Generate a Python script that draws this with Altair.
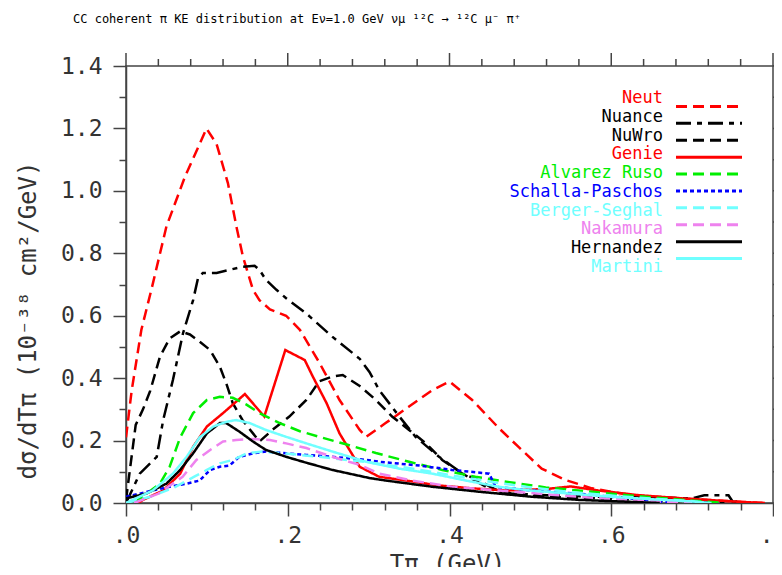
import altair as alt
import pandas as pd

series_names = ["Neut", "Nuance", "NuWro", "Genie", "Alvarez Ruso", "Schalla-Paschos",
                "Berger-Seghal", "Nakamura", "Hernandez", "Martini"]
series_colors = ["#ff0000", "#000000", "#000000", "#ff0000", "#00ee00", "#0000ff",
                 "#70ffff", "#ee82ee", "#000000", "#70ffff"]
series_dashes = [[11, 6], [15, 6, 5, 6], [11, 6], [1, 0], [11, 6], [4, 3],
                 [11, 6], [11, 6], [1, 0], [1, 0]]
series_widths = [2.5, 2.5, 2.5, 2.5, 2.5, 2.5, 2.5, 2.5, 2.5, 3]

neut_x = [0, 0.007, 0.019, 0.032, 0.05, 0.073, 0.091, 0.0995, 0.112, 0.126, 0.1365, 0.1445,
          0.157, 0.165, 0.178, 0.198, 0.215, 0.239, 0.264, 0.289, 0.297, 0.321, 0.35, 0.379,
          0.4, 0.428, 0.461, 0.486, 0.514, 0.543, 0.576, 0.625, 0.687, 0.757, 0.79]
neut_y = [0.21, 0.36, 0.555, 0.69, 0.886, 1.046, 1.15, 1.2, 1.15, 1.025, 0.886, 0.79,
          0.683, 0.65, 0.62, 0.60, 0.555, 0.45, 0.33, 0.234, 0.212, 0.256, 0.309, 0.362,
          0.389, 0.33, 0.24, 0.178, 0.11, 0.074, 0.047, 0.025, 0.015, 0.004, 0.0]

nuance_x = [0.0, 0.017, 0.038, 0.046, 0.058, 0.0705, 0.083, 0.089, 0.095, 0.112,
            0.128, 0.144, 0.159, 0.165, 0.173, 0.186, 0.198, 0.223, 0.255, 0.289,
            0.301, 0.313, 0.338, 0.358, 0.387, 0.416, 0.445, 0.477, 0.52, 0.58,
            0.64, 0.70, 0.715, 0.745, 0.75, 0.77]
nuance_y = [0.0, 0.094, 0.148, 0.266, 0.394, 0.544, 0.65, 0.72, 0.737, 0.737,
            0.747, 0.757, 0.76, 0.747, 0.715, 0.683, 0.656, 0.607, 0.533, 0.462,
            0.42, 0.362, 0.277, 0.212, 0.148, 0.094, 0.052, 0.03, 0.025, 0.02,
            0.018, 0.015, 0.025, 0.025, 0.005, 0.0]

nuwro_x = [0.0, 0.012, 0.021, 0.03, 0.042, 0.054, 0.067, 0.079, 0.091, 0.104, 0.116, 0.124,
           0.132, 0.144, 0.157, 0.165, 0.181, 0.202, 0.223, 0.239, 0.255, 0.268, 0.289,
           0.309, 0.329, 0.35, 0.371, 0.391, 0.416, 0.437, 0.465, 0.52, 0.58, 0.64, 0.7, 0.74]
nuwro_y = [0.01, 0.25, 0.3, 0.36, 0.469, 0.527, 0.55, 0.54, 0.517, 0.49, 0.437, 0.383,
           0.32, 0.266, 0.223, 0.197, 0.234, 0.277, 0.33, 0.39, 0.405, 0.41, 0.375,
           0.33, 0.277, 0.234, 0.191, 0.138, 0.094, 0.072, 0.03, 0.02, 0.015, 0.01, 0.005, 0.0]

genie_x = [0.015, 0.021, 0.046, 0.067, 0.083, 0.1, 0.12, 0.147, 0.171, 0.197, 0.221, 0.231,
           0.248, 0.264, 0.289, 0.313, 0.346, 0.387, 0.428, 0.47, 0.52, 0.55, 0.584, 0.634,
           0.687, 0.757, 0.79]
genie_y = [0.0, 0.01, 0.04, 0.094, 0.18, 0.245, 0.288, 0.349, 0.277, 0.49, 0.458, 0.405,
           0.32, 0.223, 0.116, 0.084, 0.072, 0.056, 0.047, 0.04, 0.045, 0.053, 0.04, 0.025,
           0.015, 0.004, 0.0]

alvarez_x = [0.01, 0.042, 0.054, 0.067, 0.083, 0.1, 0.116, 0.132, 0.149, 0.165, 0.19, 0.215,
             0.239, 0.272, 0.309, 0.35, 0.391, 0.432, 0.47, 0.519, 0.56, 0.62, 0.68, 0.74]
alvarez_y = [0.0, 0.062, 0.116, 0.21, 0.288, 0.33, 0.34, 0.337, 0.315, 0.288, 0.256, 0.23,
             0.212, 0.188, 0.16, 0.132, 0.106, 0.084, 0.068, 0.05, 0.04, 0.025, 0.012, 0.0]

schalla_x = [0, 0.017, 0.033, 0.054, 0.075, 0.091, 0.104, 0.116, 0.128, 0.14, 0.157, 0.173,
             0.198, 0.223, 0.255, 0.297, 0.313, 0.363, 0.403, 0.449, 0.457, 0.502, 0.56,
             0.62, 0.68]
schalla_y = [0.02, 0.03, 0.04, 0.052, 0.062, 0.072, 0.106, 0.116, 0.12, 0.148, 0.159, 0.165,
             0.159, 0.154, 0.148, 0.138, 0.132, 0.12, 0.106, 0.094, 0.052, 0.04, 0.03,
             0.015, 0.0]

berger_x = [0.0, 0.03, 0.06, 0.085, 0.1, 0.116, 0.132, 0.149, 0.169, 0.19, 0.215, 0.25, 0.3,
            0.35, 0.4, 0.45, 0.5, 0.55, 0.6, 0.65, 0.7, 0.72]
berger_y = [0.0, 0.02, 0.05, 0.085, 0.106, 0.127, 0.138, 0.159, 0.165, 0.16, 0.154, 0.145,
            0.13, 0.112, 0.09, 0.068, 0.05, 0.035, 0.024, 0.014, 0.006, 0.0]

nakamura_x = [0.01, 0.04, 0.07, 0.087, 0.104, 0.12, 0.136, 0.157, 0.178, 0.198, 0.223, 0.255,
              0.289, 0.313, 0.354, 0.403, 0.461, 0.52, 0.58, 0.64, 0.7]
nakamura_y = [0.0, 0.03, 0.084, 0.138, 0.17, 0.197, 0.202, 0.205, 0.202, 0.191, 0.176, 0.148,
              0.122, 0.094, 0.072, 0.052, 0.04, 0.028, 0.016, 0.008, 0.0]

hernandez_x = [0, 0.025, 0.05, 0.067, 0.083, 0.1, 0.116, 0.124, 0.14, 0.157, 0.173, 0.198,
               0.223, 0.255, 0.301, 0.321, 0.379, 0.437, 0.502, 0.56, 0.62, 0.66]
hernandez_y = [0.015, 0.03, 0.062, 0.106, 0.159, 0.223, 0.256, 0.256, 0.229, 0.197, 0.17, 0.148,
               0.129, 0.106, 0.08, 0.072, 0.052, 0.036, 0.02, 0.01, 0.004, 0.0]

martini_x = [0, 0.033, 0.058, 0.075, 0.091, 0.108, 0.124, 0.136, 0.153, 0.173, 0.198, 0.223,
             0.255, 0.297, 0.338, 0.379, 0.42, 0.461, 0.5, 0.55, 0.6, 0.65, 0.7, 0.724]
martini_y = [0.0, 0.04, 0.094, 0.148, 0.21, 0.245, 0.26, 0.266, 0.256, 0.234, 0.212, 0.191,
             0.165, 0.132, 0.11, 0.094, 0.072, 0.052, 0.04, 0.03, 0.02, 0.012, 0.005, 0.0]

x_tick_values = [round(i * 0.04, 2) for i in range(21)]
y_tick_values = [round(i * 0.1, 1) for i in range(15)]

all_series = [
    ("Neut", neut_x, neut_y), ("Nuance", nuance_x, nuance_y), ("NuWro", nuwro_x, nuwro_y),
    ("Genie", genie_x, genie_y), ("Alvarez Ruso", alvarez_x, alvarez_y),
    ("Schalla-Paschos", schalla_x, schalla_y), ("Berger-Seghal", berger_x, berger_y),
    ("Nakamura", nakamura_x, nakamura_y), ("Hernandez", hernandez_x, hernandez_y),
    ("Martini", martini_x, martini_y),
]
frames = []
for name, xs, ys in all_series:
    f = pd.DataFrame({"T": xs, "v": ys})
    f["series"] = name
    f["order"] = range(len(f))
    frames.append(f)
df = pd.DataFrame(pd.concat(frames, ignore_index=True))
legend_df = pd.DataFrame({"series": series_names})
xt_df = pd.DataFrame({"t": x_tick_values})
yt_df = pd.DataFrame({"t": y_tick_values})

FONT = "DejaVu Sans Mono"
AXC = "#444444"

color_scale = alt.Scale(domain=series_names, range=series_colors)
dash_scale = alt.Scale(domain=series_names, range=series_dashes)
width_scale = alt.Scale(domain=series_names, range=series_widths)
xs_scale = alt.Scale(domain=[0, 0.8], nice=False, zero=False)
ys_scale = alt.Scale(domain=[0, 1.4], nice=False, zero=False)

x_major = "round(datum.value*100) % 20 == 0"
y_major = "round(datum.value*10) % 2 == 0"

common = dict(grid=False, domainColor=AXC, domainWidth=1.5, tickColor=AXC, tickWidth=1.5,
              labelFont=FONT, labelColor="#333333", labelOverlap=False,
              titleFont=FONT, titleColor="#333333", titleFontWeight="normal")

x_bottom = alt.Axis(orient="bottom", values=x_tick_values,
                    tickSize={"condition": {"test": x_major, "value": 13}, "value": 7},
                    labelExpr=f"{x_major} ? replace(format(datum.value, '.1f'), '0.', '.') : ''",
                    labelFlush=False, labelPadding=8, labelFontSize=23,
                    title="Tπ (GeV)", titleFontSize=24, titleX=321, titleY=49,
                    titleBaseline="top", titleAlign="center", **common)
y_left = alt.Axis(orient="left", values=y_tick_values,
                  tickSize={"condition": {"test": y_major, "value": 13}, "value": 7},
                  labelExpr=f"{y_major} ? format(datum.value, '.1f') : ''",
                  labelPadding=11, labelFontSize=23,
                  title="dσ/dTπ (10⁻³⁸ cm²/GeV)", titleFontSize=24, titleX=-98, titleY=254,
                  titleAngle=270, titleAlign="center", titleBaseline="middle", **common)

lines = alt.Chart(df).mark_line(clip=True).encode(
    x=alt.X("T:Q", scale=xs_scale, axis=x_bottom),
    y=alt.Y("v:Q", scale=ys_scale, axis=y_left),
    color=alt.Color("series:N", scale=color_scale, legend=None),
    strokeDash=alt.StrokeDash("series:N", scale=dash_scale, legend=None),
    size=alt.Size("series:N", scale=width_scale, legend=None),
    order=alt.Order("order:Q"),
)

# top and right frame ticks (mirroring the axis tick values)
top_major = alt.Chart(xt_df).transform_filter("round(datum.t*100) % 20 == 0").mark_rule(
    color=AXC, strokeWidth=1.5).encode(
    x=alt.X("t:Q", scale=xs_scale, axis=None), y=alt.value(0), y2=alt.value(-13))
top_minor = alt.Chart(xt_df).transform_filter("round(datum.t*100) % 20 != 0").mark_rule(
    color=AXC, strokeWidth=1.5).encode(
    x=alt.X("t:Q", scale=xs_scale, axis=None), y=alt.value(0), y2=alt.value(-7))
right_major = alt.Chart(yt_df).transform_filter("round(datum.t*10) % 2 == 0").mark_rule(
    color=AXC, strokeWidth=1.5).encode(
    y=alt.Y("t:Q", scale=ys_scale, axis=None), x=alt.value(647), x2=alt.value(660))
right_minor = alt.Chart(yt_df).transform_filter("round(datum.t*10) % 2 != 0").mark_rule(
    color=AXC, strokeWidth=1.5).encode(
    y=alt.Y("t:Q", scale=ys_scale, axis=None), x=alt.value(647), x2=alt.value(654))

leg_y = alt.Y("series:N", sort=series_names,
              scale=alt.Scale(domain=series_names, range=[32, 201], padding=0), axis=None)

leg_lines = alt.Chart(legend_df).mark_rule(strokeWidth=3).encode(
    x=alt.value(550), x2=alt.value(616), y=leg_y,
    color=alt.Color("series:N", scale=color_scale, legend=None),
    strokeDash=alt.StrokeDash("series:N", scale=dash_scale, legend=None),
)
leg_text = alt.Chart(legend_df).mark_text(align="right", baseline="middle", font=FONT,
                                          fontSize=17).encode(
    x=alt.value(537), y=leg_y, text="series:N",
    color=alt.Color("series:N", scale=color_scale, legend=None),
)

chart = alt.layer(lines, top_major, top_minor, right_major, right_minor,
                  leg_lines, leg_text).resolve_scale(
    x="independent", y="independent"
).resolve_axis(
    x="independent", y="independent"
).properties(
    width=647, height=437,
    padding={"left": 118, "top": 58, "right": 1, "bottom": 64},
    autosize=alt.AutoSizeParams(type="none"),
    background="white",
    title=alt.TitleParams(
        "CC coherent π KE distribution at Eν=1.0 GeV   νμ ¹²C → ¹²C μ⁻ π⁺",
        font=FONT, fontSize=12, fontWeight="normal", color="#000000",
        anchor="start", frame="group", dx=-53, offset=26),
).configure_view(stroke=AXC, strokeWidth=1.5)

chart.save("out.html", embed_options={"renderer": "svg", "actions": False})
